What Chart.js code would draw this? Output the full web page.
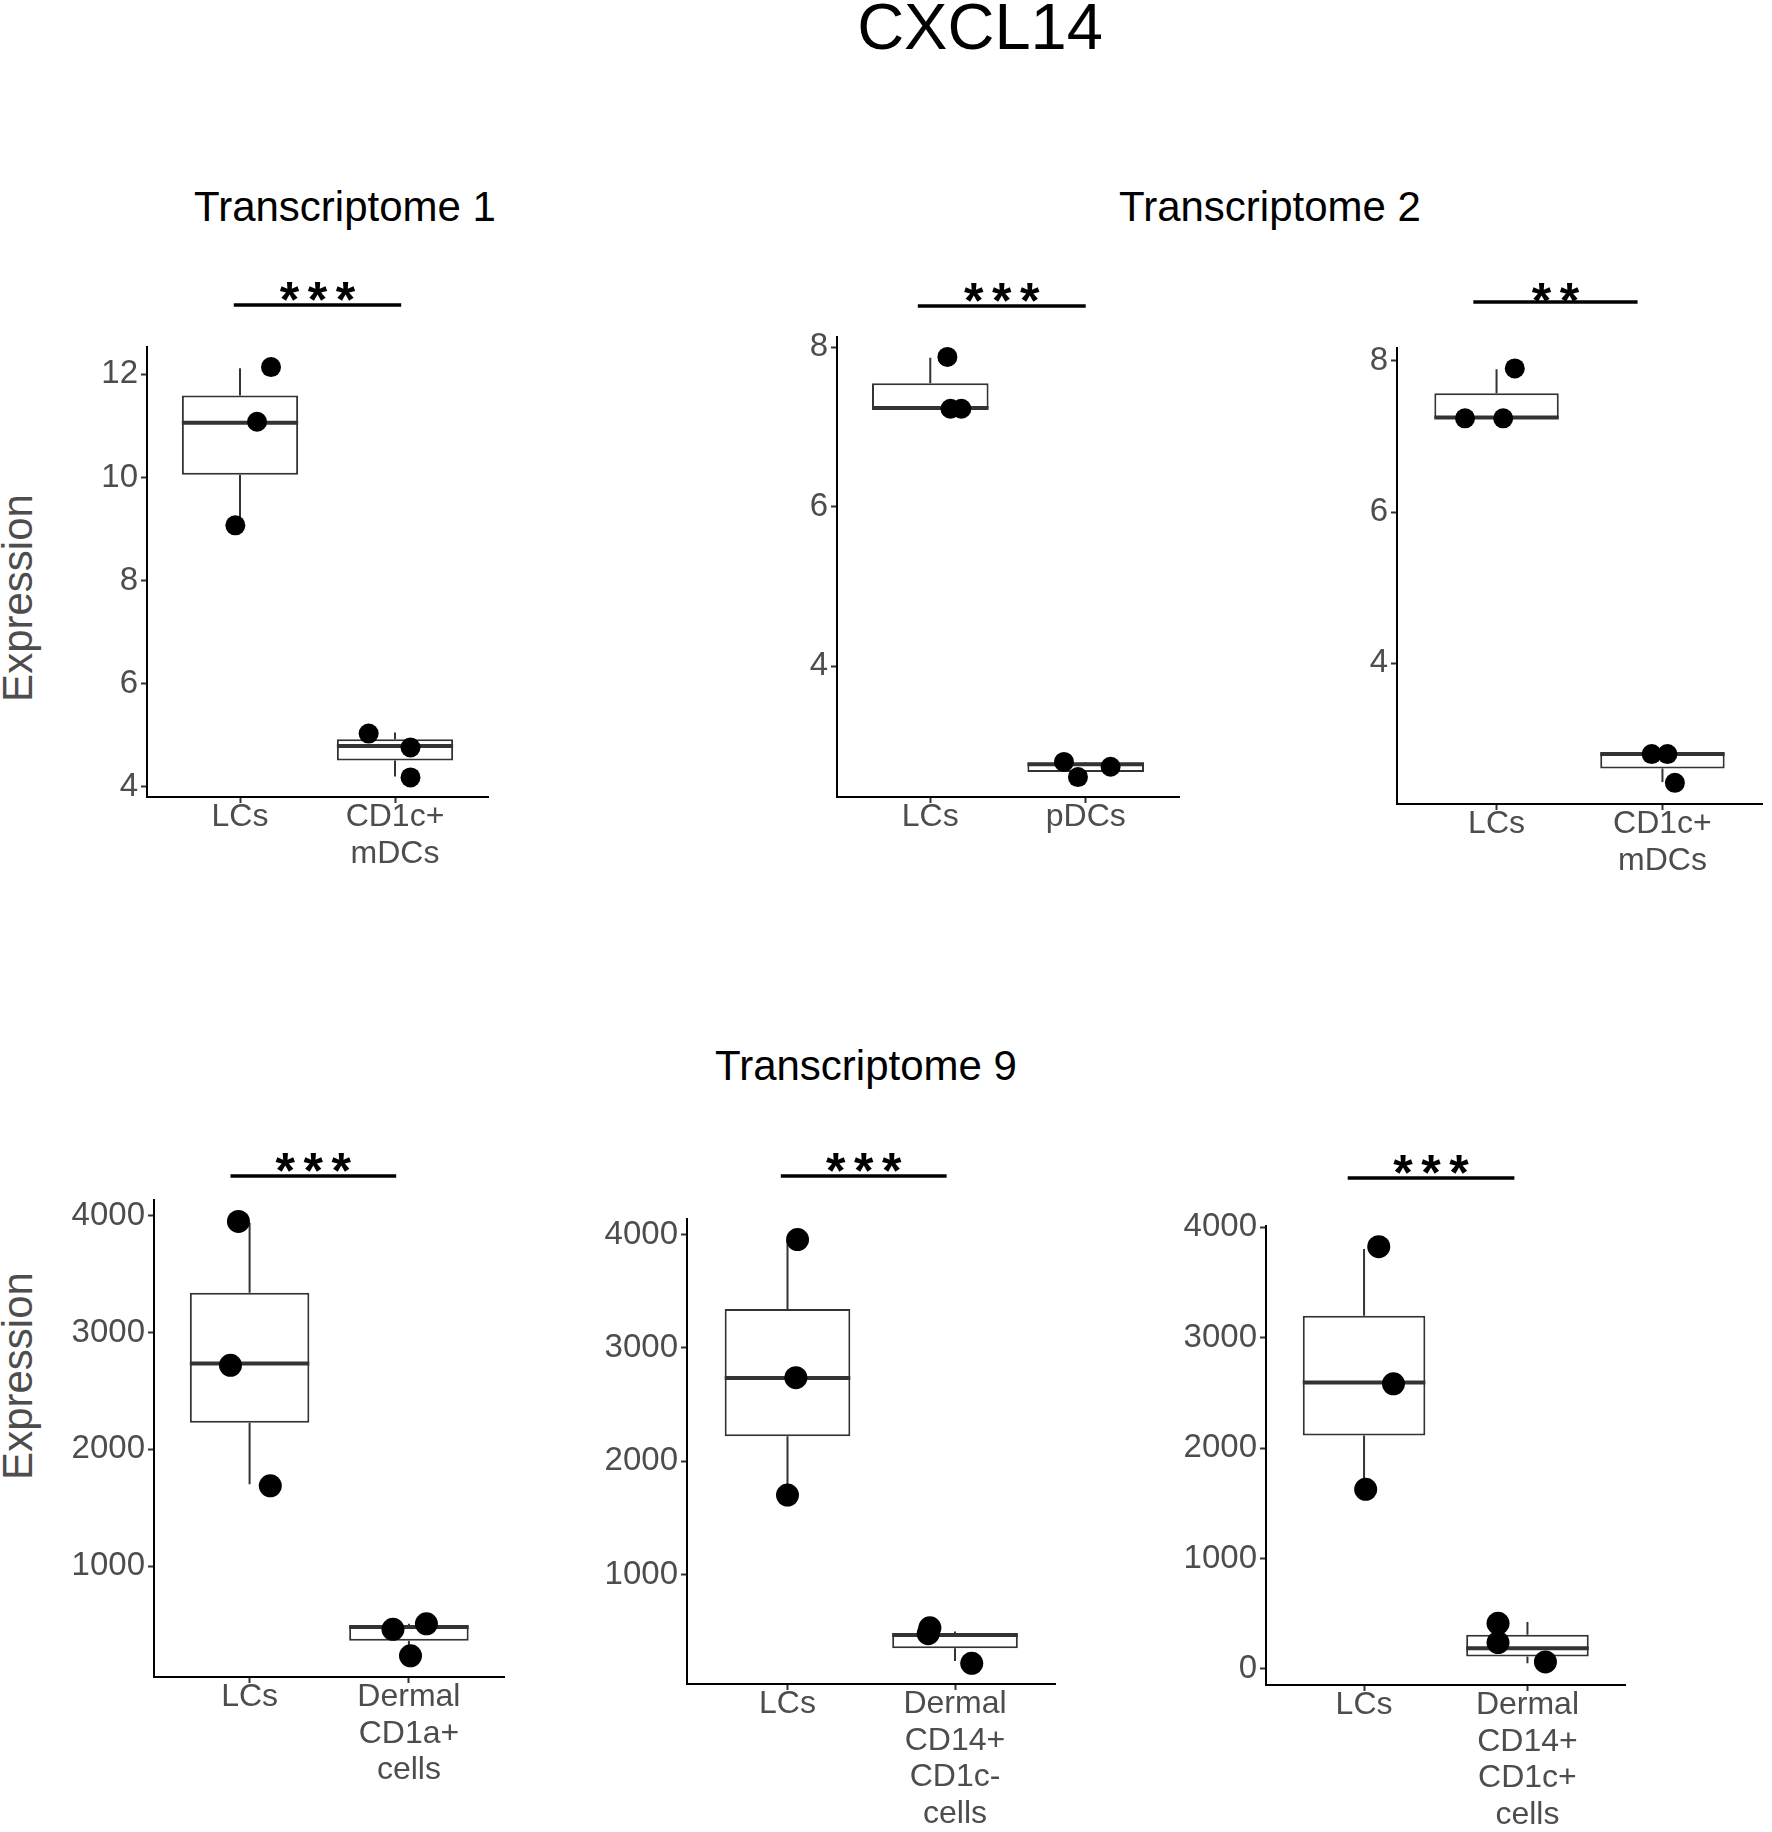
<!DOCTYPE html>
<html>
<head>
<meta charset="utf-8">
<script src="https://cdn.jsdelivr.net/npm/chart.js@4.4.1/dist/chart.umd.min.js"></script>
<style>
  html, body { margin: 0; padding: 0; background: #fff; overflow: hidden; }
  body { width: 1772px; height: 1832px; position: relative; font-family: "Liberation Sans", Arial, sans-serif; }
  .t { position: absolute; white-space: nowrap; color: #000; transform: translateX(-50%); }
  .yl { position: absolute; white-space: nowrap; color: #4d4d4d; font-size: 42px; line-height: 42px;
        transform: translate(-50%, -50%) rotate(-90deg); }
  canvas { position: absolute; }
</style>
</head>
<body>
<div class="t" style="left:980px;top:-6px;font-size:65px;line-height:65px">CXCL14</div>
<div class="t" style="left:345px;top:186px;font-size:42px;line-height:42px">Transcriptome 1</div>
<div class="t" style="left:1270px;top:186px;font-size:42px;line-height:42px">Transcriptome 2</div>
<div class="t" style="left:866px;top:1045px;font-size:42px;line-height:42px">Transcriptome 9</div>
<div class="yl" style="left:17.5px;top:598px">Expression</div>
<div class="yl" style="left:17.5px;top:1376px">Expression</div>

<script>
// --- data ---
// box stats per group: [lower whisker, q1, median, q3, upper whisker]
const t1Groups = ["LCs", ["CD1c+", "mDCs"]];
const t1Values = [[12.14, 11.08, 9.07], [5.03, 4.76, 4.18]];
const t1Jitter = [[0.2, 0.11, -0.03], [-0.17, 0.1, 0.1]];
const t1Boxes = [[9.07, 10.05, 11.06, 11.59, 12.12], [4.2, 4.51, 4.79, 4.92, 5.05]];
const t1Ticks = [4, 6, 8, 10, 12];

const t2aGroups = ["LCs", "pDCs"];
const t2aValues = [[7.88, 7.23, 7.23], [2.8, 2.61, 2.74]];
const t2aJitter = [[0.11, 0.13, 0.2], [-0.14, -0.05, 0.16]];
const t2aBoxes = [[7.23, 7.235, 7.24, 7.55, 7.87], [2.61, 2.675, 2.77, 2.79, 2.8]];
const t2aTicks = [4, 6, 8];

const t2bGroups = ["LCs", ["CD1c+", "mDCs"]];
const t2bValues = [[7.9, 7.24, 7.24], [2.8, 2.8, 2.42]];
const t2bJitter = [[0.11, -0.19, 0.04], [-0.065, 0.03, 0.075]];
const t2bBoxes = [[7.24, 7.245, 7.25, 7.57, 7.89], [2.43, 2.61, 2.8, 2.81, 2.81]];
const t2bTicks = [4, 6, 8];

const t9aGroups = ["LCs", ["Dermal", "CD1a+", "cells"]];
const t9aValues = [[3953, 2720, 1687], [458, 505, 231]];
const t9aJitter = [[-0.07, -0.12, 0.13], [-0.1, 0.11, 0.01]];
const t9aBoxes = [[1700, 2227, 2735, 3342, 3941], [260, 360, 477, 489, 505]];
const t9aTicks = [1000, 2000, 3000, 4000];

const t9bGroups = ["LCs", ["Dermal", "CD14+", "CD1c-", "cells"]];
const t9bValues = [[3956, 2738, 1702], [532, 480, 218]];
const t9bJitter = [[0.06, 0.05, 0], [-0.15, -0.16, 0.1]];
const t9bBoxes = [[1710, 2222, 2734, 3343, 3948], [238, 351, 468, 484, 500]];
const t9bTicks = [1000, 2000, 3000, 4000];

const t9cGroups = ["LCs", ["Dermal", "CD14+", "CD1c+", "cells"]];
const t9cValues = [[3825, 2582, 1627], [413, 238, 63]];
const t9cJitter = [[0.09, 0.18, 0.01], [-0.18, -0.18, 0.11]];
const t9cBoxes = [[1635, 2115, 2594, 3199, 3804], [50, 113, 188, 309, 425]];
const t9cTicks = [0, 1000, 2000, 3000, 4000];

// --- layout ---
const FONT = '"Liberation Sans", Arial, sans-serif';
const PT = 90, YW = 115, XH = 175, RP = 4;

const panels = [
  { groups: t1Groups, values: t1Values, jitter: t1Jitter, boxes: t1Boxes, ticks: t1Ticks,
    yMin: 3.8, yMax: 12.53, plot: [147, 347, 494, 797], sig: "***", bracket: [-0.04, 1.04, 305], lift: 13, r: 10 },
  { groups: t2aGroups, values: t2aValues, jitter: t2aJitter, boxes: t2aBoxes, ticks: t2aTicks,
    yMin: 2.36, yMax: 8.13, plot: [837, 337, 1185, 797], sig: "***", bracket: [-0.08, 1.0, 306], lift: 13, r: 10 },
  { groups: t2bGroups, values: t2bValues, jitter: t2bJitter, boxes: t2bBoxes, ticks: t2bTicks,
    yMin: 2.14, yMax: 8.17, plot: [1397, 348, 1768, 804], sig: "**", bracket: [-0.14, 0.85, 302], lift: 9, r: 10 },
  { groups: t9aGroups, values: t9aValues, jitter: t9aJitter, boxes: t9aBoxes, ticks: t9aTicks,
    yMin: 49, yMax: 4137, plot: [154, 1200, 512, 1677], sig: "***", bracket: [-0.12, 0.92, 1176], lift: 13, r: 11.5 },
  { groups: t9bGroups, values: t9bValues, jitter: t9bJitter, boxes: t9bBoxes, ticks: t9bTicks,
    yMin: 36, yMax: 4137, plot: [687, 1219, 1063, 1684], sig: "***", bracket: [-0.04, 0.95, 1176], lift: 13, r: 11.5 },
  { groups: t9cGroups, values: t9cValues, jitter: t9cJitter, boxes: t9cBoxes, ticks: t9cTicks,
    yMin: -146, yMax: 4012, plot: [1266, 1226, 1633, 1685], sig: "***", bracket: [-0.1, 0.92, 1178], lift: 13, r: 11.5 },
];

// whiskers, medians and the significance bracket
const boxPlugin = {
  id: "boxes",
  beforeDatasetsDraw(chart, args, opts) {
    const { ctx, scales: { x, y } } = chart;
    ctx.save();
    ctx.strokeStyle = "#333";
    ctx.lineWidth = 2;
    opts.boxes.forEach((b, i) => {
      const cx = x.getPixelForValue(i);
      ctx.beginPath();
      ctx.moveTo(cx, y.getPixelForValue(b[0]));
      ctx.lineTo(cx, y.getPixelForValue(b[1]));
      ctx.moveTo(cx, y.getPixelForValue(b[3]));
      ctx.lineTo(cx, y.getPixelForValue(b[4]));
      ctx.stroke();
    });
    ctx.restore();
  },
  afterDatasetDraw(chart, args, opts) {
    if (args.meta.type !== "bar") return;
    const { ctx, scales: { x, y } } = chart;
    ctx.save();
    ctx.strokeStyle = "#333";
    ctx.lineWidth = 4;
    opts.boxes.forEach((b, i) => {
      const my = y.getPixelForValue(b[2]);
      ctx.beginPath();
      ctx.moveTo(x.getPixelForValue(i - 0.375), my);
      ctx.lineTo(x.getPixelForValue(i + 0.375), my);
      ctx.stroke();
    });
    ctx.restore();
  },
  afterDraw(chart, args, opts) {
    const { ctx, scales: { x } } = chart;
    const x0 = x.getPixelForValue(opts.bracket[0]);
    const x1 = x.getPixelForValue(opts.bracket[1]);
    const by = opts.bracketY;
    ctx.save();
    ctx.strokeStyle = "#000";
    ctx.lineWidth = 3.5;
    ctx.beginPath();
    ctx.moveTo(x0, by);
    ctx.lineTo(x1, by);
    ctx.stroke();

    ctx.font = "bold 100px " + FONT;
    const m = ctx.measureText("*");
    const h = m.actualBoundingBoxAscent + m.actualBoundingBoxDescent;
    const mid = (m.actualBoundingBoxAscent - m.actualBoundingBoxDescent) / 2;
    const size = 100 * 19 / h;
    ctx.font = "bold " + size + "px " + FONT;
    ctx.fillStyle = "#000";
    ctx.textAlign = "center";
    ctx.textBaseline = "alphabetic";
    const n = opts.sig.length;
    const cx = (x0 + x1) / 2;
    const cy = by - opts.lift;
    for (let k = 0; k < n; k++) {
      ctx.fillText("*", cx + (k - (n - 1) / 2) * 28, cy + mid * size / 100);
    }
    ctx.restore();
  },
};

const axisGrid = { display: true, drawOnChartArea: false, drawTicks: true, tickLength: 6,
                   tickColor: "#333", tickWidth: 2, offset: false };
const axisBorder = { display: true, color: "#000", width: 2 };

panels.forEach((p) => {
  const [pl, pt, pr, pb] = p.plot;
  const canvas = document.createElement("canvas");
  const left = pl - YW, top = pt - PT;
  canvas.width = YW + (pr - pl) + RP;
  canvas.height = PT + (pb - pt) + XH;
  canvas.style.left = left + "px";
  canvas.style.top = top + "px";
  document.body.appendChild(canvas);

  new Chart(canvas, {
    type: "bar",
    data: {
      datasets: [
        {
          type: "bar",
          data: p.boxes.map((b, i) => ({ x: i, y: [b[1], b[3]] })),
          backgroundColor: "#fff",
          borderColor: "#333",
          borderWidth: 2,
          borderSkipped: false,
          barPercentage: 0.75,
          categoryPercentage: 1,
          order: 2,
        },
        {
          type: "scatter",
          data: p.values.flatMap((vs, i) => vs.map((v, k) => ({ x: i + p.jitter[i][k], y: v }))),
          backgroundColor: "#000",
          borderWidth: 0,
          pointRadius: p.r,
          pointHoverRadius: p.r,
          clip: false,
          order: 1,
        },
      ],
    },
    options: {
      responsive: false,
      animation: false,
      events: [],
      layout: { padding: { top: PT, right: RP, left: 0, bottom: 0 } },
      plugins: {
        legend: { display: false },
        tooltip: { enabled: false },
        boxes: { boxes: p.boxes, bracket: p.bracket, bracketY: p.bracket[2] - top, sig: p.sig, lift: p.lift },
      },
      scales: {
        x: {
          type: "linear",
          min: -0.6,
          max: 1.6,
          offset: false,
          afterBuildTicks: (s) => { s.ticks = p.groups.map((g, i) => ({ value: i })); },
          afterFit: (s) => { s.height = XH; },
          ticks: {
            callback: (v, i) => p.groups[i],
            color: "#4d4d4d",
            font: { family: FONT, size: 32, lineHeight: 1.14 },
            padding: -4,
            autoSkip: false,
            maxRotation: 0,
            minRotation: 0,
          },
          grid: axisGrid,
          border: axisBorder,
        },
        y: {
          type: "linear",
          min: p.yMin,
          max: p.yMax,
          afterBuildTicks: (s) => { s.ticks = p.ticks.map((v) => ({ value: v })); },
          afterFit: (s) => { s.width = YW; },
          ticks: {
            callback: (v) => String(v),
            color: "#4d4d4d",
            font: { family: FONT, size: 33 },
            padding: 3,
          },
          grid: axisGrid,
          border: axisBorder,
        },
      },
    },
    plugins: [boxPlugin],
  });
});
</script>
</body>
</html>
